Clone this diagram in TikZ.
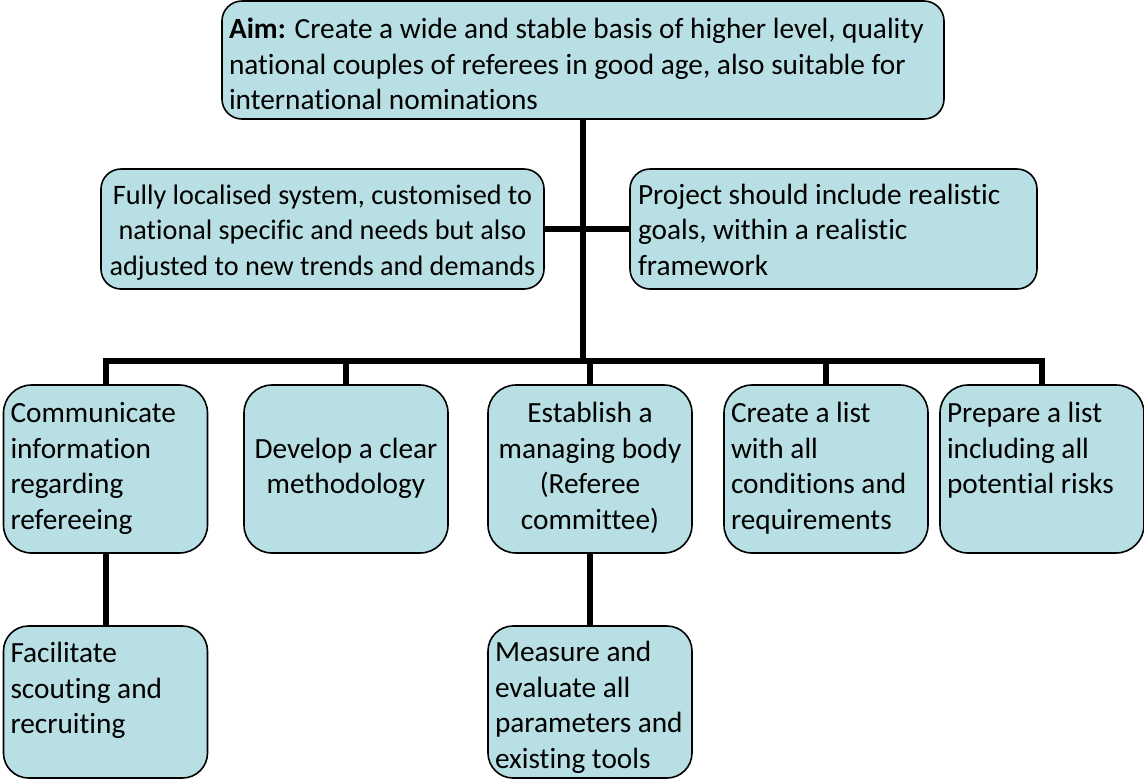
\documentclass[tikz,border=0pt]{standalone}
\usepackage{fontspec}
\setmainfont{Carlito}[Ligatures={NoCommon}]
\definecolor{boxfill}{HTML}{B8DFE3}
% [#1 font size] #2 box height, #3 top offset, #4 text width, #5 alignment, #6 text
\newcommand{\boxtext}[6][29.3pt]{\parbox[c][#2][t]{#4}{\vspace*{#3}#5\fontsize{#1}{35.5pt}\selectfont\strut #6\strut}}
\tikzset{
  box/.style={draw=black, line width=1.6pt, fill=boxfill, inner sep=0pt, rounded corners=#1},
  conn/.style={draw=black, line width=6pt, line join=miter}
}
\begin{document}
\begin{tikzpicture}[x=1pt, y=-1pt]
\useasboundingbox (0,0) rectangle (1144,780);
\coordinate (busY) at (0,361);
\node[box=20pt, minimum width=722pt, minimum height=118pt] (aim) at (583,60)
  {\boxtext{118pt}{13pt}{708pt}{\raggedright}{\textbf{Aim:} Create a wide and stable basis of higher level, quality\\national couples of referees in good age, also suitable for\\international nominations}};
\node[box=20pt, minimum width=443pt, minimum height=120pt] (loc) at (322.5,229)
  {\boxtext[28.2pt]{120pt}{10.5pt}{443pt}{\centering}{Fully localised system, customised to\\national specific and needs but also\\adjusted to new trends and demands}};
\node[box=20pt, minimum width=407pt, minimum height=120pt] (proj) at (833.5,229)
  {\boxtext{120pt}{10.5pt}{391pt}{\raggedright}{Project should include realistic\\goals, within a realistic\\framework}};
\node[box=28pt, minimum width=204pt, minimum height=168pt] (b1) at (105.5,469)
  {\boxtext{168pt}{13pt}{190pt}{\raggedright}{Communicate\\information\\regarding\\refereeing}};
\node[box=28pt, minimum width=204pt, minimum height=168pt] (b2) at (346,469)
  {\boxtext{168pt}{48.5pt}{190pt}{\centering}{Develop a clear\\methodology}};
\node[box=28pt, minimum width=204pt, minimum height=168pt] (b3) at (590,469)
  {\boxtext{168pt}{13pt}{190pt}{\centering}{Establish a\\managing body\\(Referee\\committee)}};
\node[box=28pt, minimum width=204pt, minimum height=168pt] (b4) at (826,469)
  {\boxtext{168pt}{13pt}{190pt}{\raggedright}{Create a list\\with all\\conditions and\\requirements}};
\node[box=28pt, minimum width=204pt, minimum height=168pt] (b5) at (1042,469)
  {\boxtext{168pt}{13pt}{190pt}{\raggedright}{Prepare a list\\including all\\potential risks}};
\node[box=25pt, minimum width=204pt, minimum height=152pt] (fac) at (105.5,702)
  {\boxtext{152pt}{12pt}{190pt}{\raggedright}{Facilitate\\scouting and\\recruiting}};
\node[box=25pt, minimum width=204pt, minimum height=152pt] (meas) at (590,702)
  {\boxtext{152pt}{11pt}{190pt}{\raggedright}{Measure and\\evaluate all\\parameters and\\existing tools}};
% connectors
\draw[conn] (aim.south) -- (aim.south |- busY);
\draw[conn] (loc.east) -- (proj.west);
\draw[conn] (b1.north) |- (b5.north |- busY) -- (b5.north);
\draw[conn] (b2.north) -- (b2.north |- busY);
\draw[conn] (b3.north) -- (b3.north |- busY);
\draw[conn] (b4.north) -- (b4.north |- busY);
\draw[conn] (b1.south) -- (fac.north);
\draw[conn] (b3.south) -- (meas.north);
\end{tikzpicture}
\end{document}
